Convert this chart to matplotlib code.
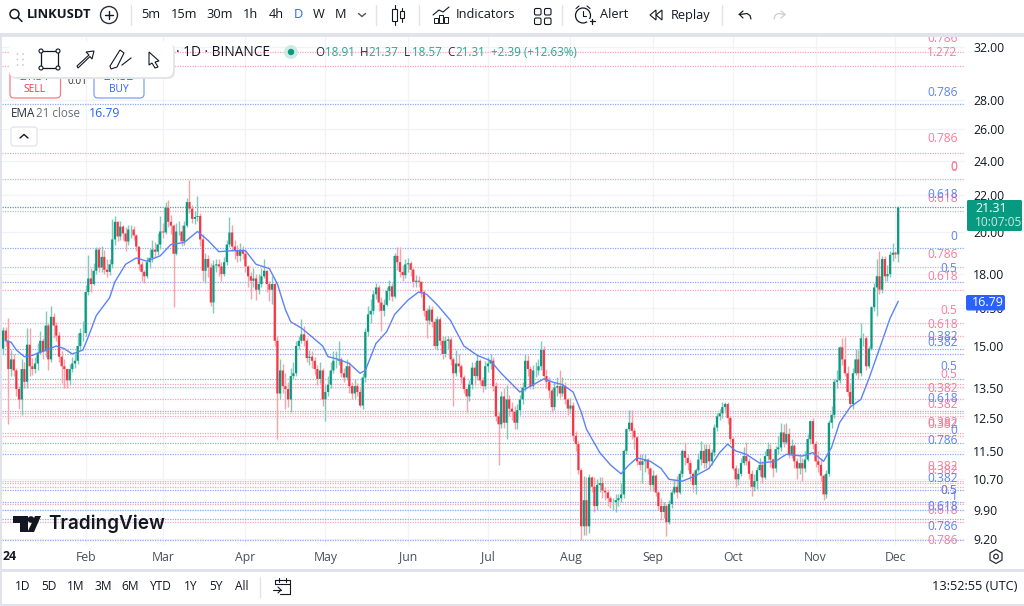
import matplotlib
matplotlib.use("Agg")
import matplotlib.pyplot as plt
from matplotlib.patches import Rectangle, FancyBboxPatch, Circle, Polygon

plt.rcParams['font.family'] = ['Open Sans', 'DejaVu Sans']

# LINKUSDT daily candles, Jan 2024 to Dec 2024
first_open = 14.9
closes = [
    15.6, 15.2, 14.15, 14.5, 14.1, 13.45, 13.1, 14.15, 13.7, 15.05,
    14.25, 14.15, 14.35, 14.75, 15.2, 14.8, 15.8, 14.5, 16.15, 15.8,
    15.4, 14.6, 14.25, 14.15, 13.75, 14.15, 14.35, 14.45, 15.0, 15.5,
    15.5, 17.2, 17.8, 17.55, 18.15, 19.15, 18.3, 18.8, 18.2, 18.1,
    18.45, 19.65, 20.55, 19.8, 20.3, 19.95, 19.55, 20.15, 20.15, 19.85,
    19.3, 18.45, 18.1, 17.9, 18.55, 18.75, 19.15, 19.05, 19.4, 20.05,
    20.0, 21.3, 20.55, 20.35, 18.95, 20.05, 20.05, 19.55, 20.35, 21.6,
    21.25, 20.7, 20.8, 20.85, 19.65, 18.15, 18.7, 18.3, 16.75, 18.4,
    18.45, 18.35, 18.0, 18.55, 19.4, 20.0, 19.3, 19.1, 18.85, 19.15,
    18.95, 18.35, 17.9, 17.7, 17.8, 17.3, 17.55, 17.9, 18.15, 17.55,
    17.3, 17.55, 15.2, 13.3, 14.1, 13.55, 13.45, 13.1, 13.9, 14.0,
    15.0, 15.2, 15.45, 15.2, 14.55, 14.6, 14.45, 14.15, 13.8, 14.1,
    13.1, 13.35, 13.6, 14.1, 14.45, 14.45, 14.5, 14.0, 13.85, 14.25,
    13.55, 13.3, 13.55, 13.35, 12.9, 13.85, 15.55, 16.25, 16.4, 17.1,
    17.4, 16.75, 16.4, 16.65, 17.25, 17.45, 17.0, 18.85, 18.55, 18.1,
    17.95, 18.45, 18.5, 18.2, 17.65, 17.7, 17.65, 17.2, 16.4, 16.0,
    16.45, 15.95, 15.0, 16.05, 15.2, 14.7, 15.2, 15.25, 14.5, 14.0,
    14.35, 14.25, 13.85, 13.45, 13.2, 13.6, 14.2, 13.9, 14.45, 13.75,
    13.55, 14.25, 14.35, 14.45, 13.55, 12.55, 12.3, 13.2, 12.35, 13.1,
    12.8, 12.7, 12.35, 12.75, 13.1, 13.5, 14.45, 14.15, 13.55, 14.1,
    14.1, 14.25, 14.85, 13.9, 13.7, 13.4, 12.85, 13.5, 13.55, 13.3,
    13.55, 13.1, 12.8, 12.9, 11.95, 11.7, 10.95, 9.5, 10.15, 9.5,
    10.75, 10.5, 10.0, 10.55, 10.6, 10.4, 10.35, 10.2, 10.1, 10.1,
    10.15, 10.2, 10.3, 11.5, 12.15, 12.35, 12.1, 11.9, 11.2, 11.1,
    11.2, 11.25, 11.0, 10.55, 10.8, 10.35, 10.0, 9.85, 10.0, 9.6,
    10.05, 10.35, 10.5, 10.35, 10.85, 11.5, 11.3, 11.15, 10.85, 10.55,
    10.95, 11.25, 11.5, 11.15, 11.55, 11.2, 11.45, 12.2, 12.55, 12.65,
    12.85, 12.95, 12.5, 11.85, 11.0, 10.7, 10.85, 11.15, 11.35, 11.2,
    10.85, 10.5, 10.65, 10.95, 11.1, 10.75, 11.35, 11.55, 11.25, 11.0,
    11.55, 11.6, 12.05, 11.75, 12.0, 11.4, 11.65, 11.2, 11.0, 11.15,
    11.0, 11.25, 11.85, 12.4, 11.7, 11.2, 11.1, 10.8, 10.3, 10.85,
    12.35, 12.6, 13.7, 13.75, 14.95, 14.5, 14.0, 13.35, 12.95, 14.0,
    14.5, 14.0, 15.3, 15.3, 14.25, 14.9, 16.55, 17.4, 17.9, 17.3,
    18.7, 17.9, 18.0, 18.9, 19.0, 18.92, 21.31,
]
highs = [
    15.75, 15.75, 16.1, 14.85, 14.7, 14.2, 13.55, 14.5, 14.4, 15.7,
    15.7, 14.55, 14.6, 15.1, 15.6, 15.3, 16.4, 15.9, 16.6, 16.3,
    15.95, 15.55, 14.8, 14.5, 14.2, 14.35, 14.6, 14.7, 15.5, 15.7,
    16.0, 17.5, 18.9, 18.3, 18.5, 19.3, 19.3, 19.35, 19.15, 18.7,
    18.7, 20.7, 20.85, 20.6, 20.6, 20.4, 20.3, 20.4, 20.4, 20.35,
    19.9, 19.3, 18.6, 18.2, 18.8, 19.2, 19.6, 19.5, 19.95, 20.85,
    20.5, 21.6, 21.7, 20.9, 20.45, 20.5, 20.6, 20.4, 20.6, 21.8,
    22.85, 21.45, 21.1, 21.95, 21.0, 19.9, 19.0, 18.9, 18.5, 18.65,
    18.7, 18.7, 18.55, 18.8, 19.6, 20.8, 20.4, 19.6, 19.4, 19.45,
    19.35, 19.2, 18.4, 18.1, 18.3, 18.0, 18.0, 18.3, 18.7, 18.2,
    17.7, 17.9, 17.7, 15.4, 14.5, 14.35, 14.0, 13.7, 14.2, 14.4,
    15.2, 15.4, 16.05, 15.8, 15.3, 14.85, 14.8, 14.6, 14.3, 14.4,
    14.2, 13.6, 13.9, 14.4, 14.8, 14.8, 15.2, 14.6, 14.2, 14.5,
    14.4, 13.7, 13.8, 13.65, 13.5, 14.0, 15.7, 16.6, 16.9, 17.3,
    17.6, 17.5, 17.0, 16.9, 17.4, 17.75, 17.6, 19.0, 19.3, 19.3,
    18.4, 18.7, 18.75, 18.6, 18.3, 17.95, 17.9, 17.7, 17.3, 16.5,
    16.65, 16.6, 16.1, 16.2, 16.15, 15.4, 15.4, 15.4, 15.35, 14.6,
    14.85, 14.7, 14.35, 13.95, 13.5, 13.75, 14.4, 14.4, 14.65, 14.5,
    13.85, 14.45, 14.6, 14.7, 14.6, 13.7, 12.7, 13.4, 13.5, 13.6,
    13.25, 13.0, 12.9, 12.95, 13.25, 13.7, 14.7, 14.65, 14.25, 14.3,
    14.4, 14.5, 15.2, 15.0, 14.15, 13.85, 13.5, 13.7, 13.85, 14.1,
    13.85, 13.7, 13.15, 13.15, 13.0, 12.1, 11.8, 11.0, 10.8, 10.75,
    10.85, 10.8, 10.75, 10.7, 10.75, 10.75, 10.5, 10.45, 10.25, 10.2,
    10.3, 10.3, 10.6, 11.55, 12.2, 12.75, 12.75, 12.2, 11.95, 11.4,
    11.4, 11.4, 11.3, 11.05, 10.95, 10.85, 10.4, 10.2, 10.1, 10.05,
    10.15, 10.45, 10.7, 10.8, 10.95, 11.55, 11.75, 11.4, 11.25, 10.9,
    11.0, 11.45, 11.8, 11.7, 11.7, 11.7, 11.55, 12.3, 12.65, 12.8,
    13.0, 13.0, 13.0, 12.55, 11.9, 11.1, 11.0, 11.3, 11.6, 11.75,
    11.3, 10.95, 10.85, 11.05, 11.3, 11.2, 11.5, 11.75, 11.7, 11.3,
    11.65, 11.95, 12.35, 12.3, 12.35, 12.2, 11.85, 11.7, 11.3, 11.35,
    11.3, 11.5, 12.0, 12.45, 12.5, 11.8, 11.5, 11.3, 10.85, 10.95,
    12.45, 12.9, 13.8, 14.1, 15.0, 15.3, 15.35, 14.25, 13.65, 14.2,
    14.9, 14.85, 15.9, 15.5, 15.4, 15.0, 16.6, 17.6, 18.7, 19.1,
    18.85, 18.85, 18.4, 19.1, 19.45, 19.1, 21.37,
]
lows = [
    14.7, 15.0, 12.3, 13.9, 13.9, 13.2, 12.8, 12.6, 13.5, 13.5,
    13.9, 13.95, 14.0, 14.1, 14.7, 14.5, 14.6, 14.1, 14.4, 15.3,
    15.2, 14.4, 13.65, 13.5, 13.5, 13.6, 14.05, 14.2, 14.35, 14.9,
    15.2, 15.4, 17.05, 17.2, 17.5, 18.0, 18.1, 18.1, 18.0, 17.85,
    17.95, 18.3, 19.4, 19.55, 19.6, 19.6, 19.1, 19.4, 19.7, 19.6,
    19.1, 18.2, 17.7, 17.6, 17.8, 18.3, 18.55, 18.8, 18.9, 19.2,
    19.7, 19.9, 20.3, 19.9, 16.55, 18.9, 19.85, 19.35, 19.4, 20.3,
    21.0, 20.5, 20.45, 20.6, 19.35, 17.7, 17.6, 17.85, 16.6, 16.3,
    18.1, 17.9, 17.7, 17.9, 18.4, 19.3, 19.1, 18.7, 18.55, 18.6,
    18.7, 18.1, 17.4, 16.9, 17.4, 16.85, 17.1, 17.4, 17.8, 17.2,
    16.8, 16.7, 15.0, 11.85, 13.1, 13.3, 12.8, 12.85, 12.7, 13.8,
    13.9, 14.9, 15.1, 15.0, 14.4, 14.3, 14.2, 13.95, 13.6, 13.65,
    12.9, 12.4, 13.2, 13.5, 14.0, 14.2, 14.3, 13.85, 13.7, 13.75,
    13.3, 13.1, 13.1, 13.2, 12.85, 12.8, 13.7, 15.4, 15.9, 16.25,
    16.9, 16.4, 15.6, 16.2, 16.6, 16.85, 16.8, 16.95, 18.2, 17.85,
    17.7, 17.8, 18.1, 17.9, 17.4, 17.4, 17.4, 17.0, 16.2, 15.3,
    15.85, 15.75, 14.9, 14.85, 15.05, 14.5, 14.6, 14.9, 14.3, 12.9,
    13.9, 14.05, 13.65, 13.3, 12.7, 13.05, 13.45, 13.6, 13.75, 13.6,
    13.35, 13.45, 14.05, 14.15, 13.4, 12.4, 11.1, 12.2, 12.2, 11.85,
    12.55, 12.45, 12.15, 12.15, 12.6, 12.95, 13.4, 13.9, 13.45, 13.45,
    13.85, 13.95, 14.1, 13.75, 13.5, 13.15, 12.7, 12.75, 13.2, 13.15,
    13.2, 12.95, 12.6, 12.65, 11.8, 11.5, 10.85, 9.17, 9.3, 9.3,
    9.35, 10.35, 9.85, 9.9, 10.35, 10.2, 10.15, 10.0, 9.95, 9.9,
    9.85, 10.0, 10.1, 10.2, 11.4, 12.1, 11.85, 11.55, 11.1, 10.95,
    10.6, 10.9, 10.85, 10.4, 10.4, 10.25, 9.9, 9.65, 9.7, 9.27,
    9.55, 9.95, 10.3, 10.2, 10.3, 10.75, 11.1, 10.95, 10.65, 10.35,
    10.3, 10.9, 11.1, 11.0, 11.0, 11.05, 11.1, 11.35, 12.1, 12.45,
    12.5, 12.7, 12.3, 11.75, 10.95, 10.5, 10.55, 10.8, 11.1, 11.1,
    10.7, 10.25, 10.4, 10.45, 10.8, 10.6, 10.7, 11.25, 11.05, 10.75,
    10.9, 11.4, 11.5, 11.6, 11.7, 11.3, 11.3, 11.0, 10.7, 10.85,
    10.65, 10.9, 11.2, 11.7, 11.55, 11.05, 10.9, 10.65, 10.15, 10.2,
    10.8, 12.2, 12.5, 13.5, 13.65, 14.3, 13.9, 13.2, 12.85, 12.8,
    13.95, 13.8, 13.9, 15.0, 14.1, 14.2, 14.85, 16.4, 16.2, 17.1,
    17.15, 17.7, 17.7, 17.85, 18.6, 18.75, 18.57,
]

# EMA 21 read at these candle numbers
ema_days = [
    1, 3, 5, 8, 11, 15, 20, 23, 26, 30, 32, 35, 40, 42, 46, 50, 54, 59, 63, 68,
    73, 77, 81, 86, 91, 95, 100, 103, 106, 108, 112, 116, 120, 122, 126, 130,
    134, 136, 140, 144, 147, 152, 156, 159, 163, 168, 173, 178, 183, 187, 194,
    199, 203, 206, 210, 214, 217, 219, 224, 228, 232, 235, 238, 243, 247, 250,
    255, 260, 265, 269, 272, 275, 279, 284, 290, 294, 300, 304, 308, 311, 314,
    318, 322, 325, 329, 333, 336,
]
ema_vals = [
    15.2, 15.15, 14.85, 14.6, 14.65, 14.8, 15.0, 14.9, 14.7, 14.85, 15.35, 16.2,
    16.95, 17.65, 18.45, 18.75, 18.6, 18.85, 19.4, 19.5, 20.05, 19.6, 19.05,
    19.1, 19.1, 18.45, 18.25, 17.55, 16.45, 15.95, 15.7, 15.35, 15.0, 14.6, 14.5,
    14.35, 14.0, 14.1, 15.1, 15.55, 16.25, 16.85, 17.2, 17.1, 16.65, 16.0, 15.0,
    14.65, 14.45, 14.0, 13.35, 13.6, 13.8, 13.7, 13.6, 13.35, 12.7, 12.15, 11.45,
    11.1, 10.85, 11.1, 11.3, 11.2, 11.0, 10.7, 10.65, 10.8, 11.0, 11.45, 11.7,
    11.5, 11.4, 11.15, 11.2, 11.4, 11.35, 11.45, 11.2, 11.6, 12.35, 12.85, 13.1,
    13.8, 14.9, 16.1, 16.79,
]

price_ticks = [32, 28, 26, 24, 22, 20, 18, 16.5, 15, 13.5, 12.5, 11.5, 10.7, 9.9, 9.2]
month_starts = [31, 60, 91, 121, 152, 182, 213, 244, 274, 305, 335]
month_names = ['Feb', 'Mar', 'Apr', 'May', 'Jun', 'Jul', 'Aug', 'Sep', 'Oct', 'Nov', 'Dec']

fib_pink = [31.6, 30.5, 24.46, 22.9, 21.12, 18.33, 17.29, 15.9, 15.39, 13.63, 13.52,
            13.12, 12.66, 12.56, 12.04, 11.94, 10.65, 10.6, 10.49, 10.05, 9.61]
fib_blue = [27.7, 19.24, 17.64, 14.89, 14.7, 13.8, 12.72, 11.73, 11.41, 10.41, 10.11,
            9.9, 9.68, 9.18]

# fib level captions on the right of the chart
PINK = '#f77c9b'
BLUE = '#5b83f5'
fib_text = ['0.786', '1.272', '0.786', '0.786', '0', '0', '0.618', '0.618', '0', '0.786', '0.5',
            '0.618', '0.5', '0.618', '0.382', '0.382', '0.5', '0.5', '0.382', '0.382', '0.618',
            '0.382', '0.382', '0', '0.786', '0.382', '0.382', '0.382', '0.5', '0.5', '1',
            '0.618', '0.618', '0.786', '0.786']
fib_color = [PINK, PINK, BLUE, PINK, PINK, PINK, PINK, BLUE, BLUE, PINK, BLUE,
             PINK, PINK, PINK, BLUE, BLUE, BLUE, PINK, PINK, PINK, BLUE,
             PINK, PINK, BLUE, BLUE, PINK, PINK, BLUE, PINK, BLUE, BLUE,
             PINK, BLUE, BLUE, PINK]
fib_y = [39, 53, 92, 139, 167, 167.6, 199, 195, 236, 254, 269,
         277, 311, 324, 336, 342, 366, 374, 388, 404, 398,
         422, 424, 430, 441, 467, 470, 478, 490, 491, 497,
         510, 507, 527, 540]

GREEN = '#089981'
RED = '#f23645'
DARK = '#131722'
GRID = '#f0f3fa'

fig = plt.figure(figsize=(10.24, 6.06), dpi=100, facecolor='#e0e3eb')


def px_axes(left, top, right, bottom):
    return [left / 1024, 1 - bottom / 606, (right - left) / 1024, (bottom - top) / 606]


# main chart
ax = fig.add_axes(px_axes(2, 37, 965, 545))
ax.set_yscale('log')
ax.set_xlim(-0.38, 361.1)
ax.set_ylim(9.06, 32.82)
for s in ax.spines.values():
    s.set_visible(False)
ax.yaxis.tick_right()
ax.set_yticks(price_ticks)
ax.set_yticklabels([f'{p:.2f}' for p in price_ticks], fontsize=8.8, color=DARK)
ax.set_xticks(month_starts)
ax.set_xticklabels(month_names, fontsize=8.8, color='#4a4e59')
ax.tick_params(axis='both', length=0)
ax.tick_params(axis='y', pad=6)
ax.tick_params(axis='x', pad=4)
ax.minorticks_off()
ax.grid(True, color=GRID, lw=0.9, zorder=0)
ax.set_axisbelow(True)

dots = (0, (1, 1))
ax.hlines(fib_pink, -0.38, 361.1, colors='#f4a6bb', lw=0.9, linestyles=dots, zorder=1)
ax.hlines(fib_blue, -0.38, 361.1, colors='#8fa9f5', lw=0.9, linestyles=dots, zorder=1)
ax.axhline(closes[-1], color='#3aa9b8', lw=0.9, ls=dots, zorder=1)

opens = [first_open] + closes[:-1]
days = list(range(len(closes)))
up = [c >= o for o, c in zip(opens, closes)]
wick_colors = ['#7fcabb' if u else '#f9a3ab' for u in up]
body_colors = [GREEN if u else RED for u in up]
ax.vlines(days, lows, highs, colors=wick_colors, lw=1.0, zorder=2)
tops = [max(o, c) for o, c in zip(opens, closes)]
bottoms = [min(o, c) for o, c in zip(opens, closes)]
ax.bar(days, [t - b for t, b in zip(tops, bottoms)], bottom=bottoms, width=0.82,
       color=body_colors, lw=0, zorder=3, snap=False)
ax.plot(ema_days, ema_vals, color='#5b83f5', lw=1.0, zorder=4)

# everything around the chart is drawn in plain pixel coordinates
ui = fig.add_axes([0, 0, 1, 1], zorder=5)
ui.set_xlim(0, 1024)
ui.set_ylim(606, 0)
ui.axis('off')
ui.patch.set_alpha(0)


def label(x, y, s, size=9.2, color=DARK, ha='left', **kw):
    ui.text(x, y, s, fontsize=size, color=color, ha=ha, va='center', **kw)


def line(xs, ys, color=DARK, lw=1.0):
    ui.plot(xs, ys, color=color, lw=lw, solid_capstyle='round', clip_on=False)


def ring(x, y, r, color=DARK, lw=1.0, fc='none'):
    ui.add_patch(Circle((x, y), r, fc=fc, ec=color, lw=lw))


def rbox(x0, y0, x1, y1, fc='white', ec='none', lw=1.0, r=2, z=1):
    ui.add_patch(FancyBboxPatch((x0 + r, y0 + r), x1 - x0 - 2 * r, y1 - y0 - 2 * r,
                                boxstyle=f'round,pad={r},rounding_size={r}',
                                fc=fc, ec=ec, lw=lw, zorder=z))


# white panels
ui.add_patch(Rectangle((0, 0), 1024, 33, fc='white', ec='none', zorder=0))
ui.add_patch(Rectangle((0, 33), 1024, 4, fc='#e0e3eb', ec='none', zorder=0))
ui.add_patch(Rectangle((0, 569), 1024, 2.5, fc='#e0e3eb', ec='none', zorder=0))
ui.add_patch(Rectangle((2, 571.5), 1022, 32, fc='white', ec='none', zorder=0))
fig.patches.append(Rectangle((2 / 1024, 1 - 569 / 606), 1022 / 1024, 532 / 606, fc='white', ec='none',
                             transform=fig.transFigure, zorder=-1))

# top toolbar
ring(14.5, 14, 4.5, lw=1.1)
line([18, 22], [17.5, 21.5], lw=1.1)
label(27, 15, 'LINKUSDT', size=9.4, fontweight='bold')
ring(109, 15, 8.5, color='#2a2e39')
line([105, 113], [15, 15])
line([109, 109], [11, 19])
for x, s in zip([151, 184, 220, 250, 276], ['5m', '15m', '30m', '1h', '4h']):
    label(x, 15, s, ha='center')
label(298, 15, 'D', color='#2962ff', ha='center')
label(319, 15, 'W', ha='center')
label(340, 15, 'M', ha='center')
line([358.5, 362, 365.5], [13.5, 16.5, 13.5], color='#50535e')
for x in [131, 376, 419, 562, 722]:
    line([x, x], [5, 25], color='#e0e3eb')
ui.add_patch(Rectangle((392, 9), 5, 12, fc='white', ec=DARK, lw=0.8))
line([394.5, 394.5], [5, 9], lw=0.8)
line([394.5, 394.5], [21, 25], lw=0.8)
ui.add_patch(Rectangle((400, 11), 4, 7, fc='white', ec=DARK, lw=0.8))
line([402, 402], [8, 11], lw=0.8)
line([402, 402], [18, 22], lw=0.8)
for x, h in [(436, 5), (441, 8), (446, 6)]:
    ui.add_patch(Rectangle((x - 2, 23 - h), 4, h, fc='none', ec=DARK, lw=0.7))
line([433, 439, 443, 449], [15, 10, 12, 7], lw=0.8)
label(456, 15, 'Indicators')
for x, y in [(534.5, 8.5), (544.5, 8.5), (534.5, 18), (544.5, 18)]:
    rbox(x, y, x + 6.5, y + 6.5, fc='none', ec=DARK, lw=0.8, r=1.5)
ring(583, 15.5, 7.5, lw=0.9)
line([583, 583, 586], [11, 15.5, 15.5], lw=0.8)
line([576, 579], [8.5, 6], lw=0.8)
line([587, 590], [6, 8.5], lw=0.8)
line([589, 597], [20.5, 20.5], color='white', lw=3)
line([589.5, 594.5], [21, 21], lw=0.9)
line([592, 592], [18.5, 23.5], lw=0.9)
label(600, 15, 'Alert')
ui.add_patch(Polygon([[656, 10], [650, 15], [656, 20]], fc='none', ec=DARK, lw=0.8))
ui.add_patch(Polygon([[662, 10], [656, 15], [662, 20]], fc='none', ec=DARK, lw=0.8))
label(671, 15, 'Replay')
line([739, 743], [14.5, 11], lw=0.85)
line([740, 747, 750, 751], [14.5, 13.5, 15.5, 19], lw=0.85)
line([739.5, 743], [14.5, 18], lw=0.85)
line([785, 778, 775, 774], [14.5, 13.5, 15.5, 19], color='#c9cbd1', lw=0.85)
line([785, 781], [14.5, 11], color='#c9cbd1', lw=0.85)
line([785, 781], [14.5, 18], color='#c9cbd1', lw=0.85)

# legend block
label(176, 52, '· 1D · BINANCE', size=9.8, color=DARK)
ring(291, 52, 7, color='none', fc='#cdeae4')
ring(291, 52, 3.2, color='none', fc=GREEN)
for x, vx, k, v in zip([315, 360, 404, 447], [325, 368, 412, 455], 'OHLC',
                       ['18.91', '21.37', '18.57', '21.31']):
    label(x, 52, k, size=8.4, color='#2a2e39')
    label(vx, 52, v, size=8.4, color='#22ab94')
label(491, 52, '+2.39 (+12.63%)', size=8.4, color='#22ab94')

rbox(10, 70, 60.5, 98, fc='white', ec='#f77c80', lw=0.9, r=4, z=2)
rbox(94, 70, 144, 98, fc='white', ec='#7f9ff8', lw=0.9, r=4, z=2)
ui.text(35, 76.5, '21.31', fontsize=8.6, color=RED, ha='center', va='center', zorder=3)
ui.text(35, 90, 'SELL', fontsize=7.4, color=RED, ha='center', va='center', zorder=3)
ui.text(119, 76.5, '21.32', fontsize=8.6, color='#2962ff', ha='center', va='center', zorder=3)
ui.text(119, 90, 'BUY', fontsize=7.4, color='#2962ff', ha='center', va='center', zorder=3)
label(77, 82, '0.01', size=7.2, color='#2a2e39', ha='center')
label(11, 113.5, 'EMA', size=8.4, color='#2a2e39')
label(36, 113.5, '21 close', size=8.4, color='#6a6d78')
label(89, 113.5, '16.79', size=8.8, color='#2962ff')
rbox(11, 127, 37, 146, fc='white', ec='#e0e3eb', lw=0.9, r=3)
line([20, 24, 28], [138, 134.5, 138], lw=1.0)

# floating drawing toolbar
rbox(10, 44, 175, 79, fc='#e4e5e9', r=7, z=5)
rbox(9, 42, 173, 77, fc='white', r=7, z=6)
for x in [17.5, 23]:
    for y in [54, 59.5, 65]:
        ui.add_patch(Circle((x, y), 0.9, fc='#c9cbd1', ec='none', zorder=7))
ui.add_patch(Rectangle((41, 51), 17, 17, fc='none', ec=DARK, lw=0.9, zorder=7))
for x, y in [(41, 51), (58, 51), (41, 68), (58, 68)]:
    ui.add_patch(Circle((x, y), 2, fc='white', ec=DARK, lw=0.8, zorder=8))
ui.add_patch(Polygon([[77, 66], [89, 55], [86, 52], [94, 51], [92, 59], [90, 56.5], [78, 68]],
                     fc='white', ec=DARK, lw=0.8, zorder=7))
ui.add_patch(Polygon([[110, 66], [120, 50], [124, 53], [117, 67], [111, 69]],
                     fc='white', ec=DARK, lw=0.8, zorder=7))
ui.plot([122, 131], [65, 58], color=DARK, lw=0.8, zorder=7)
ui.add_patch(Polygon([[149, 52], [159, 61], [155, 62], [158, 67], [155, 68], [152, 63], [149, 65]],
                     fc='white', ec=DARK, lw=0.8, zorder=7))

# fib captions
for s, c, y in zip(fib_text, fib_color, fib_y):
    ui.text(957.5, y, s, fontsize=8.6, color=c, ha='right', va='center', clip_on=True)
ui.add_patch(Rectangle((900, 33), 70, 4, fc='#e0e3eb', ec='none', zorder=4))
ui.add_patch(Rectangle((900, 545), 64, 7, fc='white', ec='none', zorder=4))

# price scale boxes
rbox(967, 200, 1022, 231, fc=GREEN, r=1.5)
label(975, 208.5, '21.31', size=9, color='white')
label(975, 222, '10:07:05', size=8.6, color='#cdeae4')
rbox(966, 295, 1005, 310.5, fc='#2962ff', r=2)
label(972, 303, '16.79', size=9, color='white')

# time axis extras
label(3, 556, '24', size=8.8, fontweight='bold')
ui.add_patch(Polygon([[996, 549.5], [1002, 553], [1002, 560], [996, 563.5], [990, 560], [990, 553]],
                     fc='none', ec='#2a2e39', lw=0.9))
ring(996, 556.5, 2.3, color='#2a2e39', lw=0.9)

# TradingView mark
ui.add_patch(Polygon([[13, 516], [28, 516], [28, 532], [20, 532], [20, 523], [13, 523]], fc=DARK, ec='none'))
ui.add_patch(Circle((31, 519.5), 3.3, fc=DARK, ec='none'))
ui.add_patch(Polygon([[35, 516], [41, 516], [34, 532], [27.5, 532]], fc=DARK, ec='none'))
ui.text(48, 524, 'TradingView', fontsize=13.6, color=DARK, ha='left', va='center',
        family=['Inter', 'DejaVu Sans'], fontweight='semibold')

# bottom bar
for x, s in zip([23, 49, 76, 103, 130, 161, 191, 216, 242],
                ['1D', '5D', '1M', '3M', '6M', 'YTD', '1Y', '5Y', 'All']):
    label(x, 587, s, size=8.6, ha='center')
line([260, 260], [577, 597], color='#e0e3eb')
line([275, 275, 290, 290, 280], [584, 580, 580, 594, 594], lw=0.8)
line([279, 279], [578, 582], lw=0.8)
line([286, 286], [578, 582], lw=0.8)
line([275, 290], [584, 584], lw=0.8)
line([273, 281], [590, 590], lw=0.8)
line([278, 281, 278], [587, 590, 593], lw=0.8)
label(1017, 587, '13:52:55 (UTC)', size=9.2, ha='right')

fig.savefig('out.png', dpi=100, facecolor=fig.get_facecolor())
